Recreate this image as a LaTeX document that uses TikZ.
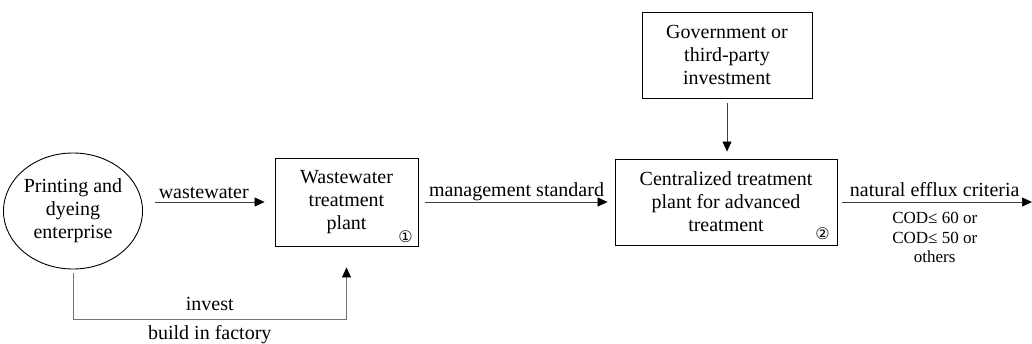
\documentclass[tikz,border=0pt]{standalone}
\usepackage{fontspec}
\setmainfont{Liberation Serif}
\newfontfamily\circfont{DejaVu Sans}
\usetikzlibrary{arrows.meta,shapes.geometric}

\begin{document}
\begin{tikzpicture}[
		box/.style = {draw, line width=0.9pt, align=center, inner sep=0pt},
		arr/.style = {-{Triangle[length=10pt, width=9pt, color=black]}, line width=0.6pt, black!75},
		lab/.style = {anchor=base, inner sep=0pt, black},
		num/.style = {inner sep=0pt, font=\circfont\fontsize{16}{16}\selectfont},
		font = \fontsize{20}{23}\selectfont
	]
	\useasboundingbox (0pt, 0pt) rectangle (1032pt, -344pt);
	
	% enterprise and plants
	\node[box, ellipse, minimum width=130pt, minimum height=116pt] (ent) at (73pt, -211pt) {Printing and\\dyeing\\enterprise};
	\node[box, minimum width=143pt, minimum height=88pt] (wwtp) at (346.5pt, -202pt) {Wastewater\\treatment\\plant};
	\node[box, minimum width=222pt, minimum height=86pt] (ctp) at (726pt, -202pt) {Centralized treatment\\plant for advanced\\treatment};
	\node[box, minimum width=170pt, minimum height=86pt] (gov) at (727pt, -55pt) {Government or\\third-party\\investment};
	
	% plant numbers
	\node[num] (n1) at ([shift={(-13pt, 10pt)}]wwtp.south east) {①};
	\node[num] (n2) at ([shift={(-15pt, 12pt)}]ctp.south east) {②};
	
	% flows
	\draw[arr, shorten <=12pt, shorten >=10pt] (wwtp.west -| ent.east) -- (wwtp.west)
		node[lab, midway, yshift=3pt, xshift=-5pt] {wastewater};
	\draw[arr, shorten <=7pt, shorten >=7pt] (wwtp.east) -- (ctp.west)
		node[lab, midway, yshift=5pt] {management standard};
	\draw[arr, shorten <=5pt, shorten >=7pt] (gov.south) -- (gov.south |- ctp.north);
	\coordinate (out) at (1032pt, -202pt);
	\draw[arr, shorten <=5pt] (ctp.east) -- (out)
		node[lab, midway, yshift=5pt] {natural efflux criteria}
		node[midway, anchor=north, inner sep=0pt, yshift=-10pt, align=center, black, font=\fontsize{17}{19.5}\selectfont] {COD≤ 60 or\\COD≤ 50 or\\others};
	
	% investment
	\draw[arr, black!55, shorten <=4pt, shorten >=21pt] (ent.south) -- ++(0pt, -50pt) coordinate (bl)
		-- (bl -| wwtp.south)
		node[lab, midway, yshift=9pt] {invest}
		node[lab, midway, yshift=-20pt] {build in factory}
		-- (wwtp.south);
\end{tikzpicture}
\end{document}
